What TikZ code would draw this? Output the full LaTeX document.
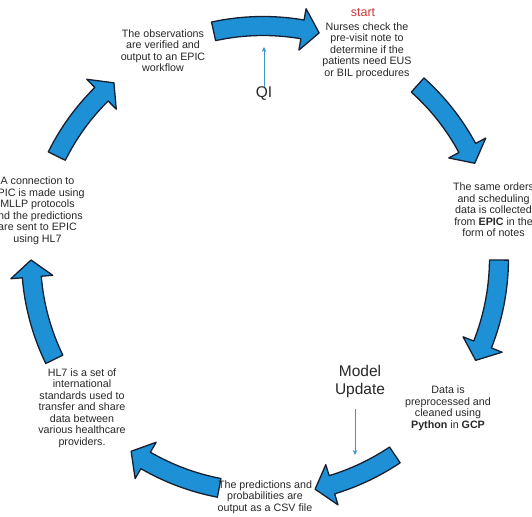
\documentclass[tikz,border=0pt]{standalone}
\usepackage{fontspec}
\setmainfont{Liberation Sans}
\usetikzlibrary{arrows.meta,calc}
\definecolor{arrowblue}{RGB}{30,144,214}
\definecolor{arrowedge}{RGB}{22,32,48}
\definecolor{txt}{RGB}{40,40,40}
\definecolor{startred}{RGB}{200,60,60}
\definecolor{thinblue}{RGB}{60,150,205}
\newcommand{\blockarrow}[3]{%
  \pgfmathsetmacro{\hb}{#2+4.2}%
  \pgfmathsetlengthmacro{\baro}{#3+9.5}%
  \pgfmathsetlengthmacro{\bari}{#3-9.5}%
  \pgfmathsetlengthmacro{\baho}{#3+21}%
  \pgfmathsetlengthmacro{\bahi}{#3-21}%
  \pgfmathsetlengthmacro{\barm}{#3}%
  \draw[barrow] (#1:\baro) arc[start angle=#1, end angle=\hb, radius=\baro]
    -- (\hb:\baho) -- (#2:\barm) -- (\hb:\bahi) -- (\hb:\bari)
    arc[start angle=\hb, end angle=#1, radius=\bari] -- cycle;}
\tikzset{
  barrow/.style={fill=arrowblue, draw=arrowedge, line width=1.3pt, line join=round},
  lbl/.style={align=center, font=\fontsize{10.7}{11.5}\selectfont, text=txt, inner sep=0pt},
  biglbl/.style={align=center, font=\fontsize{15.5}{18}\selectfont, text=txt, inner sep=0pt},
  startlbl/.style={font=\fontsize{12.5}{14}\selectfont, text=startred, inner sep=0pt},
  thinarrow/.style={draw=thinblue, line width=0.8pt, -{Stealth[length=5pt,width=4.5pt]}}
}
\begin{document}
\begin{tikzpicture}[x=1pt,y=1pt]
\fill[white] (0,0) rectangle (532,516);
\useasboundingbox (0,0) rectangle (532,516);
\begin{scope}[shift={(263,258)}]
  \blockarrow{102.3}{76}{232}
  \blockarrow{48.2}{24.1}{232}
  \blockarrow{-0.5}{-25.7}{236}
  \blockarrow{-56.2}{-77.3}{237}
  \blockarrow{-100.8}{-124.3}{234}
  \blockarrow{-154.1}{-179.5}{232}
  \blockarrow{153.7}{130.4}{230}
\end{scope}
\node[lbl] (obs) at (163,465.5) {The observations\\are verified and\\output to an EPIC\\workflow};
\node[startlbl] (start) at (363,503.5) {start};
\node[lbl] (nurse) at (367,465.5) {Nurses check the\\pre-visit note to\\determine if the\\patients need EUS\\or BIL procedures};
\node[lbl] (orders) at (493.5,306) {The same orders\\and scheduling\\data is collected\\from \textbf{EPIC} in the\\form of notes};
\node[lbl] (data) at (448,108) {Data is\\preprocessed and\\cleaned using\\\textbf{Python} in \textbf{GCP}};
\node[lbl] (pred) at (265,19) {The predictions and\\probabilities are\\output as a CSV file};
\node[lbl] (hl7) at (82,108) {HL7 is a set of\\international\\standards used to\\transfer and share\\data between\\various healthcare\\providers.};
\node[lbl] (conn) at (37.5,305.5) {A connection to\\EPIC is made using\\MLLP protocols\\and the predictions\\are sent to EPIC\\using HL7};
\node[biglbl] (qi) at (264,422) {QI};
\node[biglbl] (mu) at (360,135) {Model\\Update};
\coordinate (qitip) at (264,469);
\draw[thinarrow] (qi.north) -- (qitip);
\coordinate (mutip) at (355,61);
\draw[thinarrow] ([yshift=-12pt]mu.south -| mutip) -- (mutip);
\end{tikzpicture}
\end{document}
